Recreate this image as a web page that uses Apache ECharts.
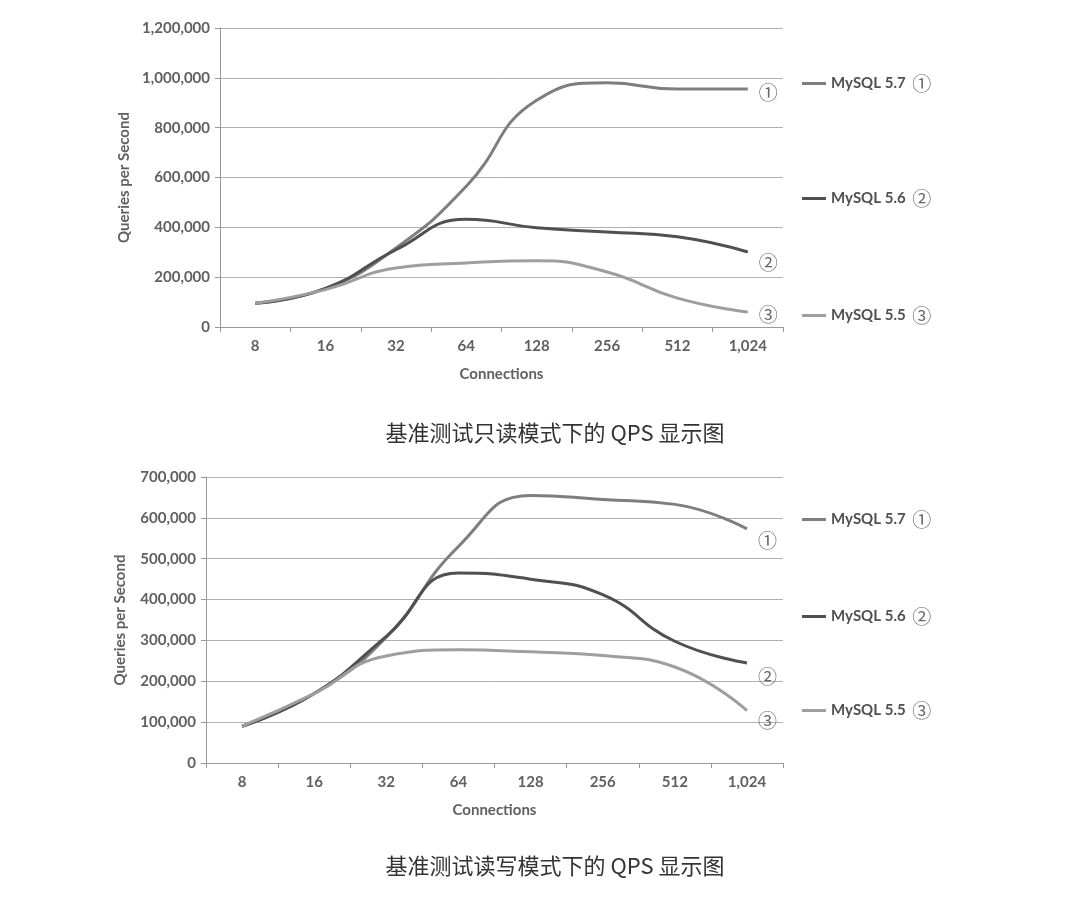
<!DOCTYPE html>
<html>
<head>
<meta charset="utf-8">
<script src="https://cdn.jsdelivr.net/npm/echarts@6/dist/echarts.min.js"></script>
<style>
html,body{margin:0;padding:0;background:#fff;}
#c{width:1067px;height:902px;}
</style>
</head>
<body>
<div id="c"></div>
<script>
// ---- data ----
var connections = ['8', '16', '32', '64', '128', '256', '512', '1,024'];
var seriesNames = ['MySQL 5.7', 'MySQL 5.6', 'MySQL 5.5'];
var circled = ['①', '②', '③'];
var readOnly57 = [95000, 155000, 317000, 565000, 910000, 980000, 955000, 955000];
var readOnly56 = [95000, 155000, 310000, 432000, 398000, 381000, 362000, 301000];
var readOnly55 = [95000, 150000, 237000, 257000, 266000, 221000, 116000, 60000];
var readWrite57 = [90000, 170000, 308000, 530000, 655000, 645000, 633000, 573000];
var readWrite56 = [90000, 170000, 310000, 465000, 450000, 412000, 298000, 245000];
var readWrite55 = [90000, 170000, 262000, 277000, 272000, 263000, 235000, 128000];
var titles = ['基准测试只读模式下的 QPS 显示图', '基准测试读写模式下的 QPS 显示图'];

var colors = ['#7e7e7e', '#505050', '#9e9e9e'];
var labelFont = 'Lato, "Open Sans", sans-serif';
var circFont = '"Noto Sans CJK SC", "DejaVu Sans", sans-serif';

function fmt(v) { return Number(v).toLocaleString('en-US'); }

var chart = echarts.init(document.getElementById('c'));

function xAxis(gi) {
  return {
    type: 'category', gridIndex: gi, data: connections, boundaryGap: true,
    name: 'Connections', nameLocation: 'middle', nameGap: 40,
    nameTextStyle: { fontFamily: labelFont, fontWeight: 'bold', fontSize: 15, color: '#606060' },
    axisLine: { lineStyle: { color: '#999', width: 1 } },
    axisTick: { show: true, length: 5, lineStyle: { color: '#999' } },
    axisLabel: { fontFamily: labelFont, fontWeight: 'bold', fontSize: 15, color: '#606060', margin: 12 },
    splitLine: { show: false }
  };
}
function yAxis(gi, max, interval, gap) {
  return {
    type: 'value', gridIndex: gi, min: 0, max: max, interval: interval,
    name: 'Queries per Second', nameLocation: 'middle', nameGap: gap, nameRotate: 90,
    nameTextStyle: { fontFamily: labelFont, fontWeight: 'bold', fontSize: 15, color: '#606060' },
    axisLine: { show: true, lineStyle: { color: '#999', width: 1 } },
    axisTick: { show: true, length: 5, lineStyle: { color: '#999' } },
    axisLabel: { fontFamily: labelFont, fontWeight: 'bold', fontSize: 15, color: '#606060', margin: 10, formatter: fmt },
    splitLine: { show: true, lineStyle: { color: '#b0b0b0', width: 1 } }
  };
}
function line(gi, idx, data, offY) {
  return {
    type: 'line', name: seriesNames[idx], xAxisIndex: gi, yAxisIndex: gi,
    data: data, smooth: true, symbol: 'none',
    lineStyle: { color: colors[idx], width: 3 },
    itemStyle: { color: colors[idx] },
    endLabel: {
      show: true, formatter: circled[idx], offset: [3, offY],
      fontFamily: circFont, fontSize: 19, color: '#666'
    },
    animation: false
  };
}
function legend(idx, left, top) {
  return {
    data: [seriesNames[idx]], left: left, top: top, orient: 'vertical',
    icon: 'rect', itemWidth: 24, itemHeight: 3, itemGap: 2,
    formatter: function (n) { return '{a|' + n + '}  {b|' + circled[idx] + '}'; },
    textStyle: {
      rich: {
        a: { fontFamily: labelFont, fontWeight: 'bold', fontSize: 15, color: '#505050' },
        b: { fontFamily: circFont, fontSize: 19, color: '#666' }
      }
    },
    selectedMode: false
  };
}

var option = {
  backgroundColor: '#ffffff',
  animation: false,
  title: [
    { text: titles[0], left: 550, top: 417, textAlign: 'center',
      textStyle: { fontFamily: '"Noto Sans CJK SC", sans-serif', fontWeight: 'normal', fontSize: 22, color: '#333' } },
    { text: titles[1], left: 550, top: 850, textAlign: 'center',
      textStyle: { fontFamily: '"Noto Sans CJK SC", sans-serif', fontWeight: 'normal', fontSize: 22, color: '#333' } }
  ],
  grid: [
    { left: 220, top: 28, width: 563, height: 299 },
    { left: 206, top: 477, width: 577, height: 286 }
  ],
  xAxis: [xAxis(0), xAxis(1)],
  yAxis: [yAxis(0, 1200000, 200000, 88), yAxis(1, 700000, 100000, 78)],
  legend: [
    legend(0, 797, 69), legend(1, 797, 184), legend(2, 797, 301),
    legend(0, 797, 505), legend(1, 797, 602), legend(2, 797, 696)
  ],
  series: [
    line(0, 0, readOnly57, 4), line(0, 1, readOnly56, 11), line(0, 2, readOnly55, 3),
    line(1, 0, readWrite57, 12), line(1, 1, readWrite56, 14), line(1, 2, readWrite55, 10)
  ]
};
chart.setOption(option);
</script>
</body>
</html>
